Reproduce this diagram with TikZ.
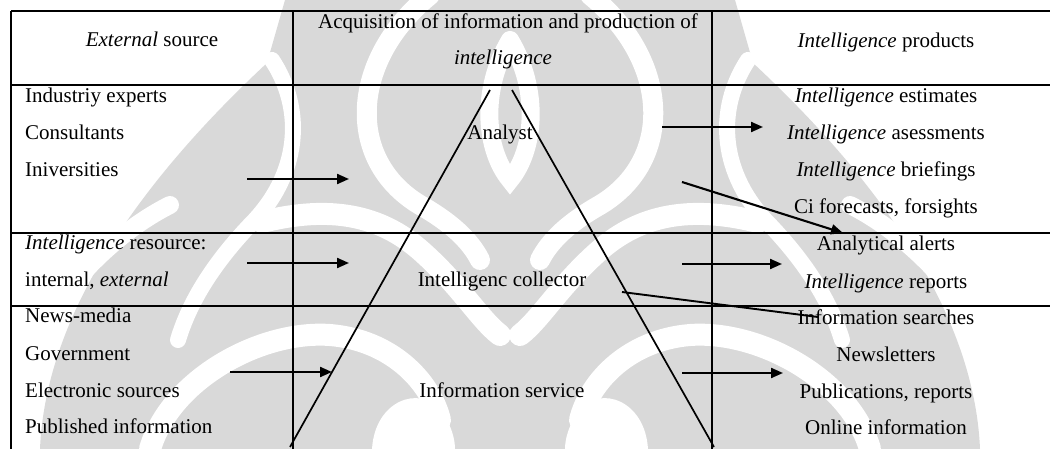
\documentclass[tikz,border=0pt]{standalone}
\usepackage{fontspec}
\setmainfont{Liberation Serif}
\usetikzlibrary{arrows.meta}

\tikzset{
  tabrule/.style={line width=1.7pt, black},
  cone/.style={line width=1.7pt, black},
  flow/.style={line width=2.1pt, -{Triangle[length=12pt,width=10pt]}},
  bareline/.style={line width=1.9pt},
  txt/.style={inner sep=0pt, font=\fontsize{21}{24}\selectfont},
  lcell/.style={txt, anchor=base west},
  ccell/.style={txt, anchor=base},
  emblem/.style={fill=black!15, draw=none},
  gap/.style={draw=white, line width=#1, line cap=round},
  gap/.default=20pt
}

\begin{document}
\begin{tikzpicture}[x=1pt, y=-1pt]
\useasboundingbox (0,0) rectangle (1050,449);
\fill[white] (0,0) rectangle (1050,449);

% light emblem in the background, symmetric about x = 510
\fill[emblem] (40,449) .. controls (45,330) and (120,200) .. (267,63)
  -- (285,0) -- (735,0) -- (753,63)
  .. controls (900,200) and (975,330) .. (980,449) -- cycle;
\foreach \s in {1,-1} {
  \begin{scope}[xshift=510pt, xscale=\s, xshift=-510pt]
    % separation of the outer leaf
    \draw[gap=16pt] (272,60) .. controls (305,110) and (300,175) .. (250,225)
      .. controls (215,262) and (190,300) .. (178,340);
    % arc round the crown
    \draw[gap=20pt] (430,-5) .. controls (350,60) and (345,160) .. (420,205)
      .. controls (450,222) and (470,240) .. (480,260);
    % long sweep through the middle rows
    \draw[gap=22pt] (262,222) .. controls (330,205) and (380,215) .. (420,250)
      .. controls (460,285) and (480,320) .. (500,335);
    % lower curl
    \draw[gap=22pt] (150,449) .. controls (170,380) and (260,330) .. (330,335)
      .. controls (390,340) and (430,380) .. (440,420);
    % inner white of the lower curl
    \fill[white] (372,449) .. controls (375,400) and (420,385) .. (440,410)
      .. controls (452,425) and (455,440) .. (455,449) -- cycle;
    % white corner tongue beside the text columns
    \draw[gap=18pt] (60,300) .. controls (90,260) and (130,225) .. (170,205);
  \end{scope}
}
% central bud
\draw[gap=18pt] (510,40) .. controls (480,90) and (485,150) .. (510,180)
  .. controls (535,150) and (540,90) .. (510,40);

% table rules
\draw[tabrule] (11,11) -- (1050,11);
\draw[tabrule] (11,85) -- (1050,85);
\draw[tabrule] (11,233) -- (1050,233);
\draw[tabrule] (11,306) -- (1050,306);
\draw[tabrule] (11,11) -- (11,449);
\draw[tabrule] (293,11) -- (293,449);
\draw[tabrule] (712,11) -- (712,449);

% header
\node[ccell] (hsrc) at (152,47) {\textit{External} source};
\node[ccell] (hacq1) at (508,29) {Acquisition of information and production of};
\node[ccell] (hacq2) at (503,65) {\textit{intelligence}};
\node[ccell] (hprod) at (886,48) {\textit{Intelligence} products};

% external sources
\node[lcell] (s1) at (25,103) {Industriy experts};
\node[lcell] (s2) at (25,140) {Consultants};
\node[lcell] (s3) at (25,177) {Iniversities};
\node[lcell] (s4) at (25,250) {\textit{Intelligence} resource:};
\node[lcell] (s5) at (25,287) {internal, \textit{external}};
\node[lcell] (s6) at (25,323) {News-media};
\node[lcell] (s7) at (25,360) {Government};
\node[lcell] (s8) at (25,397) {Electronic sources};
\node[lcell] (s9) at (25,433) {Published information};

% products
\node[ccell] (p1) at (886,103) {\textit{Intelligence} estimates};
\node[ccell] (p2) at (886,140) {\textit{Intelligence} asessments};
\node[ccell] (p3) at (886,177) {\textit{Intelligence} briefings};
\node[ccell] (p4) at (886,214) {Ci forecasts, forsights};
\node[ccell] (p5) at (886,251) {Analytical alerts};
\node[ccell] (p6) at (886,288) {\textit{Intelligence} reports};
\node[ccell] (p7) at (886,324) {Information searches};
\node[ccell] (p8) at (886,361) {Newsletters};
\node[ccell] (p9) at (886,398) {Publications, reports};
\node[ccell] (p10) at (886,434) {Online information};

% pyramid
\coordinate (tl) at (490,90);
\coordinate (bl) at (290,447);
\coordinate (tr) at (512,90);
\coordinate (br) at (714,447);
\draw[cone] (tl) -- (bl);
\draw[cone] (tr) -- (br);
\node[ccell] (lan) at (500,140) {Analyst};
\node[ccell] (lcol) at (502,287) {Intelligenc collector};
\node[ccell] (lsrv) at (502,397) {Information service};

% flows into the pyramid
\coordinate (i1a) at (247,179); \coordinate (i1b) at (349,179);
\coordinate (i2a) at (247,263); \coordinate (i2b) at (349,263);
\coordinate (i3a) at (230,372); \coordinate (i3b) at (332,372);
\draw[flow] (i1a) -- (i1b);
\draw[flow] (i2a) -- (i2b);
\draw[flow] (i3a) -- (i3b);

% flows out to the products
\coordinate (o1a) at (662,127); \coordinate (o1b) at (763,127);
\coordinate (o2a) at (682,182); \coordinate (o2b) at (843,233);
\coordinate (o3a) at (682,264); \coordinate (o3b) at (782,264);
\coordinate (o4a) at (682,373); \coordinate (o4b) at (783,373);
\coordinate (o5a) at (622,292); \coordinate (o5b) at (818,317);
\draw[flow] (o1a) -- (o1b);
\draw[flow] (o2a) -- (o2b);
\draw[flow] (o3a) -- (o3b);
\draw[flow] (o4a) -- (o4b);
\draw[bareline] (o5a) -- (o5b);
\end{tikzpicture}
\end{document}
